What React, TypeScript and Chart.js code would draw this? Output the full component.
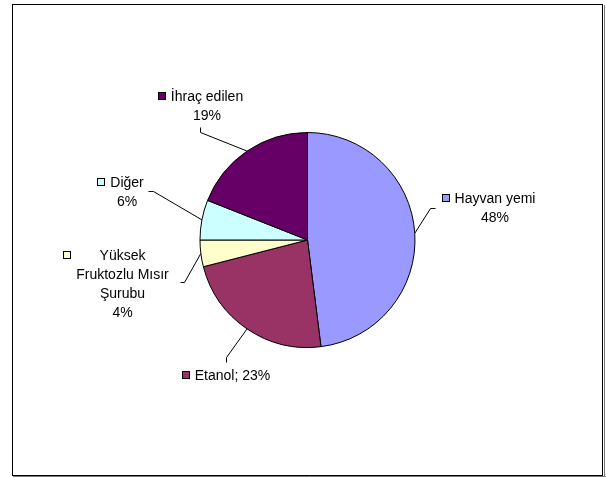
import React, { useEffect, useRef } from "react";
import { Chart, registerables } from "chart.js";

Chart.register(...registerables);

// ---- data ----
const categories = ["Hayvan yemi", "Etanol", "Yüksek Fruktozlu Mısır Şurubu", "Diğer", "İhraç edilen"];
const categoryLines = [["Hayvan yemi"], ["Etanol"], ["Yüksek", "Fruktozlu Mısır", "Şurubu"], ["Diğer"], ["İhraç edilen"]];
const shares = [48, 23, 4, 6, 19];
const sliceColors = ["#9999FF", "#993366", "#FFFFCC", "#CCFFFF", "#660066"];

// ---- label layout (styling only) ----
const labelLayout = [
  { cx: 495, baseline: 203, inline: false, elbow: [[430, 208], [435, 208]] },
  { cx: 232.5, baseline: 380, inline: true, elbow: [[226, 357], [226, 362]] },
  { cx: 122.5, baseline: 260, inline: false, elbow: [[184, 282], [180, 282]] },
  { cx: 127, baseline: 187, inline: false, elbow: [[153, 191], [148, 191]] },
  { cx: 207, baseline: 101, inline: false, elbow: [[200, 132], [200, 127]] },
];

const FONT = '14px "Liberation Sans", Arial, sans-serif';
const LINE_H = 19;

const labelPlugin = {
  id: "pieLabels",
  beforeDraw(chart: any) {
    const ctx = chart.ctx;
    ctx.save();
    ctx.fillStyle = "#ffffff";
    ctx.fillRect(0, 0, chart.width, chart.height);
    // frame
    ctx.strokeStyle = "#000000";
    ctx.lineWidth = 1;
    ctx.strokeRect(12.5, 4.5, 590, 471);
    ctx.strokeStyle = "#777777";
    ctx.beginPath();
    ctx.moveTo(604.5, 5);
    ctx.lineTo(604.5, 477);
    ctx.moveTo(13, 476.5);
    ctx.lineTo(606, 476.5);
    ctx.stroke();
    ctx.restore();
  },
  afterDraw(chart: any) {
    const ctx = chart.ctx;
    const meta = chart.getDatasetMeta(0);
    const data = chart.data.datasets[0].data as number[];
    const total = data.reduce((a: number, b: number) => a + b, 0);
    ctx.save();
    ctx.font = FONT;
    ctx.textBaseline = "alphabetic";
    ctx.textAlign = "center";
    meta.data.forEach((arc: any, i: number) => {
      const lay = labelLayout[i];
      const { x, y, startAngle, endAngle, outerRadius } = arc.getProps(
        ["x", "y", "startAngle", "endAngle", "outerRadius"],
        true
      );
      const mid = (startAngle + endAngle) / 2;
      const ex = x + Math.cos(mid) * outerRadius;
      const ey = y + Math.sin(mid) * outerRadius;
      // leader
      ctx.strokeStyle = "#000000";
      ctx.lineWidth = 1;
      ctx.beginPath();
      ctx.moveTo(ex, ey);
      lay.elbow.forEach((p) => ctx.lineTo(p[0] + 0.5, p[1] + 0.5));
      ctx.stroke();
      // text
      const pct = Math.round((data[i] / total) * 100) + "%";
      const name = categoryLines[i];
      const lines = lay.inline ? [name.join(" ") + "; " + pct] : [...name, pct];
      ctx.fillStyle = "#000000";
      let maxW = 0;
      lines.forEach((t, k) => {
        maxW = Math.max(maxW, ctx.measureText(t).width);
        ctx.fillText(t, lay.cx, lay.baseline + k * LINE_H);
      });
      // legend key square
      const sx = Math.round(lay.cx - maxW / 2) - 13;
      const sy = lay.baseline - 9;
      ctx.fillStyle = sliceColors[i];
      ctx.fillRect(sx, sy, 8, 8);
      ctx.strokeStyle = "#000000";
      ctx.strokeRect(sx + 0.5, sy + 0.5, 7, 7);
    });
    ctx.restore();
  },
};

export default function App() {
  const canvasRef = useRef<HTMLCanvasElement | null>(null);
  useEffect(() => {
    if (!canvasRef.current) return;
    const chart = new Chart(canvasRef.current, {
      type: "pie",
      data: {
        labels: categories,
        datasets: [
          {
            data: shares,
            backgroundColor: sliceColors,
            borderColor: "#000000",
            borderWidth: 1,
            hoverOffset: 0,
          },
        ],
      },
      options: {
        responsive: false,
        animation: false,
        devicePixelRatio: 1,
        radius: 107.5,
        layout: { padding: { left: 200, right: 191, top: 132, bottom: 129 } },
        plugins: {
          legend: { display: false },
          tooltip: { enabled: false },
        },
        events: [],
      } as any,
      plugins: [labelPlugin],
    });
    return () => chart.destroy();
  }, []);
  return (
    <div style={{ position: "absolute", left: 0, top: 0, width: 606, height: 477 }}>
      <canvas ref={canvasRef} width={606} height={477} style={{ display: "block" }} />
    </div>
  );
}
